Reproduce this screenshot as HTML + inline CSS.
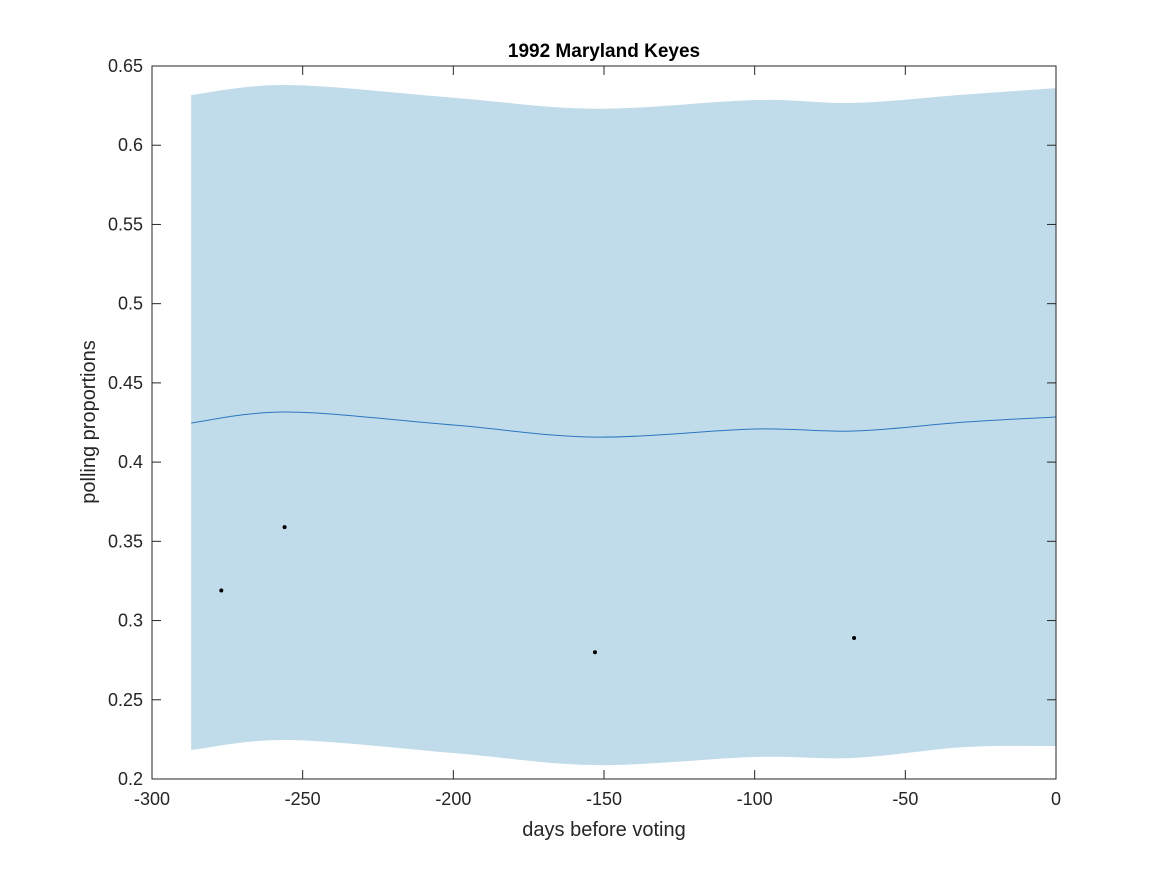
<!DOCTYPE html>
<html><head><meta charset="utf-8"><style>
html,body{margin:0;padding:0;background:#fff;}
svg{display:block;font-family:"Liberation Sans",Arial,sans-serif;}
</style></head><body>
<svg id="chart" width="1167" height="875" viewBox="0 0 1167 875">
<rect x="0" y="0" width="1167" height="875" fill="#fff"/>
<g id="plot"></g>
</svg>
<script>
const days=[-287,-255,-200,-153,-100,-67,-30,0];
const upper=[0.6317,0.638,0.630,0.623,0.6285,0.6267,0.632,0.636];
const lower=[0.2183,0.2246,0.2164,0.2088,0.2139,0.2133,0.2202,0.2208];
const mean=[0.4247,0.4316,0.4234,0.4158,0.4209,0.4196,0.4253,0.4285];
const pollDays=[-277,-256,-153,-67];
const pollVals=[0.319,0.359,0.28,0.289];
const xTicks=[-300,-250,-200,-150,-100,-50,0];
const yTicks=[0.2,0.25,0.3,0.35,0.4,0.45,0.5,0.55,0.6,0.65];

const L=152,R=1056,T=66,B=779;
const X=d=>L+(d+300)/300*(R-L);
const Y=v=>B-(v-0.2)/0.45*(B-T);
const NS='http://www.w3.org/2000/svg';
const g=document.getElementById('plot');
function mk(t,a){const e=document.createElementNS(NS,t);for(const k in a)e.setAttribute(k,a[k]);g.appendChild(e);return e;}
function smooth(xs,ys,move){
  const p=xs.map((x,i)=>[X(x),Y(ys[i])]);
  let s=(move?'M':'L')+p[0][0]+','+p[0][1];
  for(let i=0;i<p.length-1;i++){
    const p0=p[Math.max(0,i-1)],p1=p[i],p2=p[i+1],p3=p[Math.min(p.length-1,i+2)];
    const c1=[p1[0]+(p2[0]-p0[0])/6,p1[1]+(p2[1]-p0[1])/6];
    const c2=[p2[0]-(p3[0]-p1[0])/6,p2[1]-(p3[1]-p1[1])/6];
    s+=` C${c1[0]},${c1[1]} ${c2[0]},${c2[1]} ${p2[0]},${p2[1]}`;
  }
  return s;
}
let band=smooth(days,upper,true)+smooth(days.slice().reverse(),lower.slice().reverse(),false)+'Z';
let e=mk('path',{d:band,fill:'#c0dcea',stroke:'none'});


e=mk('path',{d:smooth(days,mean,true),fill:'none',stroke:'#2a77c0','stroke-width':1});


pollDays.forEach((d,i)=>{
  const c=mk('circle',{cx:X(d),cy:Y(pollVals[i]),r:2,fill:'#000'});
  
  
});
e=mk('rect',{x:L,y:T,width:R-L,height:B-T,fill:'none',stroke:'#262626','stroke-width':1});


xTicks.forEach(t=>{
  const x=X(t);
  mk('line',{x1:x,y1:B,x2:x,y2:B-9,stroke:'#262626'});
  mk('line',{x1:x,y1:T,x2:x,y2:T+9,stroke:'#262626'});
  const tx=mk('text',{x:x,y:B+26,'text-anchor':'middle','font-size':18,fill:'#262626'});
  tx.textContent=t;
  
  
});
yTicks.forEach(t=>{
  const y=Y(t);
  mk('line',{x1:L,y1:y,x2:L+9,y2:y,stroke:'#262626'});
  mk('line',{x1:R,y1:y,x2:R-9,y2:y,stroke:'#262626'});
  const tx=mk('text',{x:L-9,y:y+6,'text-anchor':'end','font-size':18,fill:'#262626'});
  tx.textContent=String(+t.toFixed(2));
  
  
});
e=mk('text',{x:604,y:57,'text-anchor':'middle','font-size':19,'font-weight':'bold',fill:'#000'});
e.textContent='1992 Maryland Keyes';


e=mk('text',{x:604,y:836,'text-anchor':'middle','font-size':20,fill:'#262626'});
e.textContent='days before voting';


e=mk('text',{x:95,y:422,'text-anchor':'middle','font-size':20,fill:'#262626',transform:'rotate(-90 95 422)'});
e.textContent='polling proportions';


</script>
</body></html>
